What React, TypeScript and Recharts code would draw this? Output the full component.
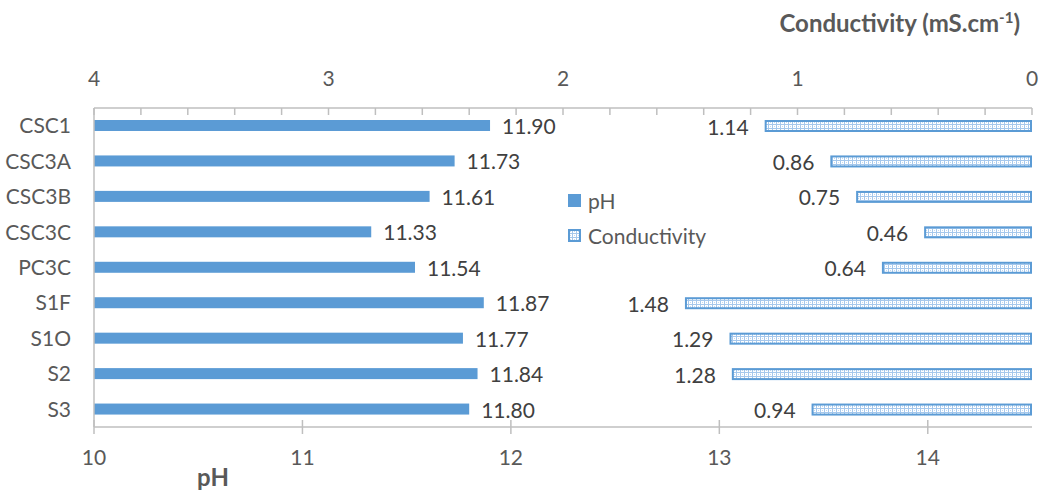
import { Bar, BarChart, Legend, XAxis, YAxis } from "recharts";

const samples = ["CSC1", "CSC3A", "CSC3B", "CSC3C", "PC3C", "S1F", "S1O", "S2", "S3"];
const phValues = [11.9, 11.73, 11.61, 11.33, 11.54, 11.87, 11.77, 11.84, 11.8];
const conductivityValues = [1.14, 0.86, 0.75, 0.46, 0.64, 1.48, 1.29, 1.28, 0.94];

const phTicks = [10, 11, 12, 13, 14];
const condTicks = [
  0, 0.2, 0.4, 0.6, 0.8, 1, 1.2, 1.4, 1.6, 1.8, 2, 2.2, 2.4, 2.6, 2.8, 3, 3.2, 3.4, 3.6,
  3.8, 4,
];
const legendOrder = ["pH", "Conductivity"];

const data = samples.map((name, i) => ({
  name,
  ph: phValues[i],
  cond: conductivityValues[i],
}));

const FONT = "Lato, 'Noto Sans', sans-serif";
const BLUE = "#5B9BD5";
const AXIS = "#BFBFBF";
const TICK_TEXT = "#595959";
const VALUE_TEXT = "#404040";

function DotPattern({ id }: { id: string }) {
  return (
    <pattern id={id} width={4} height={4} patternUnits="userSpaceOnUse">
      <rect width={4} height={4} fill="#fff" />
      <rect width={1} height={4} fill="#A6C8EC" />
      <rect width={4} height={1} fill="#A6C8EC" />
      <rect x={2} y={2} width={1} height={1} fill="#C2D9F1" />
    </pattern>
  );
}

// top axis: ticks hang down into the plot, labels only on whole numbers
function CondTick({ x, y, payload }: any) {
  const major = Number.isInteger(payload.value);
  return (
    <g>
      <line x1={x} x2={x} y1={y} y2={y + 7} stroke={AXIS} strokeWidth={1.5} />
      {major && (
        <text x={x} y={y - 22} textAnchor="middle" fill={TICK_TEXT} fontSize={21} fontFamily={FONT}>
          {payload.value}
        </text>
      )}
    </g>
  );
}

// bottom axis: ticks cross the line
function PhTick({ x, y, payload }: any) {
  return (
    <g>
      <line x1={x} x2={x} y1={y - 7} y2={y + 7} stroke={AXIS} strokeWidth={1.5} />
      <text x={x} y={y + 38} textAnchor="middle" fill={TICK_TEXT} fontSize={21} fontFamily={FONT}>
        {payload.value}
      </text>
    </g>
  );
}

function PhBar({ x, y, width, height, payload }: any) {
  const left = Math.min(x, x + width);
  const right = Math.max(x, x + width);
  return (
    <g>
      <rect x={left} y={y} width={right - left} height={height} fill={BLUE} />
      <text
        x={right + 12}
        y={y + height / 2}
        dominantBaseline="central"
        fill={VALUE_TEXT}
        fontSize={21}
        fontFamily={FONT}
      >
        {payload.ph.toFixed(2)}
      </text>
    </g>
  );
}

function CondBar({ x, y, width, height, payload }: any) {
  const left = Math.min(x, x + width);
  const right = Math.max(x, x + width);
  return (
    <g>
      <rect
        x={left + 1}
        y={y + 1}
        width={right - left - 2}
        height={height - 2}
        fill="url(#condDots)"
        stroke={BLUE}
        strokeWidth={2}
      />
      <text
        x={left - 16}
        y={y + height / 2}
        textAnchor="end"
        dominantBaseline="central"
        fill={VALUE_TEXT}
        fontSize={21}
        fontFamily={FONT}
      >
        {payload.cond.toFixed(2)}
      </text>
    </g>
  );
}

function CondTitle({ viewBox }: any) {
  return (
    <text
      x={viewBox.x + viewBox.width - 12}
      y={viewBox.y + 32}
      textAnchor="end"
      fill={TICK_TEXT}
      fontSize={24}
      fontWeight="bold"
      fontFamily={FONT}
    >
      Conductivity (mS.cm
      <tspan dy={-9} fontSize={15}>
        -1
      </tspan>
      <tspan dy={9}>)</tspan>
    </text>
  );
}

function PhTitle({ viewBox }: any) {
  return (
    <text
      x={viewBox.x + 119}
      y={viewBox.y + 59}
      textAnchor="middle"
      fill={TICK_TEXT}
      fontSize={24}
      fontWeight="bold"
      fontFamily={FONT}
    >
      pH
    </text>
  );
}

function LegendBox({ payload }: any) {
  const items = [...(payload || [])].sort(
    (a: any, b: any) => legendOrder.indexOf(a.value) - legendOrder.indexOf(b.value),
  );
  return (
    <div style={{ fontFamily: FONT, fontSize: 21, color: TICK_TEXT }}>
      {items.map((entry: any) => (
        <div
          key={entry.value}
          style={{ display: "flex", alignItems: "center", height: 35, whiteSpace: "nowrap" }}
        >
          <svg width={13} height={13} style={{ marginRight: 7 }}>
            {entry.value === "pH" ? (
              <rect width={13} height={13} fill={BLUE} />
            ) : (
              <>
                <defs>
                  <DotPattern id="legendDots" />
                </defs>
                <rect x={1} y={1} width={11} height={11} fill="url(#legendDots)" stroke={BLUE} strokeWidth={2} />
              </>
            )}
          </svg>
          <span>{entry.value}</span>
        </div>
      ))}
    </div>
  );
}

export default function App() {
  return (
    <div style={{ position: "absolute", left: 0, top: 0, background: "#fff" }}>
      <BarChart
        width={1042}
        height={495}
        data={data}
        layout="vertical"
        margin={{ top: 0, right: 10, bottom: 0, left: 10 }}
      >
        <defs>
          <DotPattern id="condDots" />
        </defs>
        <XAxis
          xAxisId="cond"
          type="number"
          orientation="top"
          reversed
          domain={[0, 4]}
          ticks={condTicks}
          interval={0}
          height={108}
          tickSize={0}
          tickMargin={0}
          tick={<CondTick />}
          axisLine={{ stroke: AXIS, strokeWidth: 1.5 }}
          label={(p: any) => <CondTitle {...p} />}
        />
        <XAxis
          xAxisId="ph"
          type="number"
          orientation="bottom"
          domain={[10, 14.5]}
          ticks={phTicks}
          interval={0}
          height={68}
          tickSize={0}
          tickMargin={0}
          tick={<PhTick />}
          axisLine={{ stroke: AXIS, strokeWidth: 1.5 }}
          label={(p: any) => <PhTitle {...p} />}
        />
        <YAxis
          yAxisId="cat"
          type="category"
          dataKey="name"
          width={84}
          tickLine={false}
          tickSize={0}
          tickMargin={23}
          interval={0}
          axisLine={{ stroke: AXIS, strokeWidth: 1.5 }}
          tick={{ fill: TICK_TEXT, fontSize: 21, fontFamily: FONT }}
        />
        <YAxis yAxisId="cat2" type="category" dataKey="name" hide />
        <Legend
          layout="vertical"
          align="center"
          verticalAlign="middle"
          content={<LegendBox />}
          wrapperStyle={{ left: 568, top: 183, width: "auto" }}
        />
        <Bar
          xAxisId="ph"
          yAxisId="cat"
          dataKey="ph"
          name="pH"
          fill={BLUE}
          barSize={11}
          shape={<PhBar />}
          isAnimationActive={false}
        />
        <Bar
          xAxisId="cond"
          yAxisId="cat2"
          dataKey="cond"
          name="Conductivity"
          fill={BLUE}
          barSize={12}
          shape={<CondBar />}
          isAnimationActive={false}
        />
      </BarChart>
    </div>
  );
}
